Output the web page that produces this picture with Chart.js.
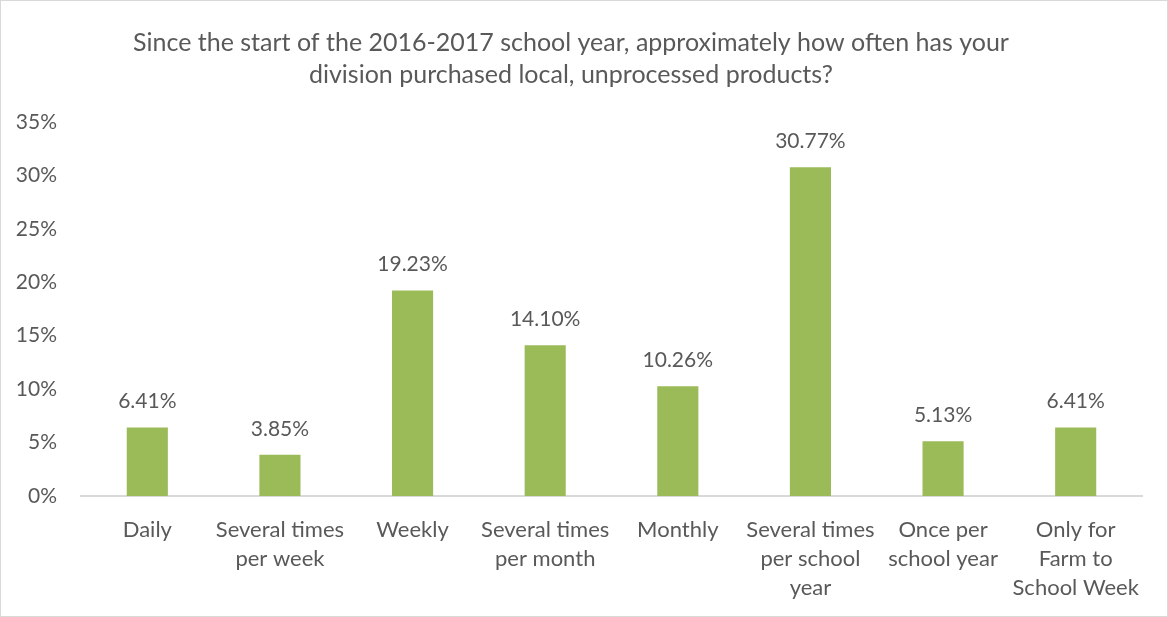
<!DOCTYPE html>
<html>
<head>
<meta charset="utf-8">
<script src="https://cdn.jsdelivr.net/npm/chart.js@4.4.1/dist/chart.umd.min.js"></script>
<style>
  html, body { margin: 0; padding: 0; background: #fff; }
  #wrap { position: relative; width: 1168px; height: 617px; }
  #wrap::after { content: ''; position: absolute; inset: 0; border: 1px solid #d9d9d9; pointer-events: none; }
  canvas { display: block; }
</style>
</head>
<body>
<div id="wrap"><canvas id="freqChart" width="1168" height="617"></canvas></div>
<script>
  // categorías y porcentajes
  const categories = [
    'Daily',
    ['Several times', 'per week'],
    'Weekly',
    ['Several times', 'per month'],
    'Monthly',
    ['Several times', 'per school', 'year'],
    ['Once per', 'school year'],
    ['Only for', 'Farm to', 'School Week']
  ];
  const percents = [6.41, 3.85, 19.23, 14.10, 10.26, 30.77, 5.13, 6.41];
  const yTicks = [0, 5, 10, 15, 20, 25, 30, 35];

  const FONT = 'Lato, "Open Sans", sans-serif';
  const GREY = '#595959';

  // etiquetas de valor encima de cada barra
  const valueLabels = {
    id: 'valueLabels',
    afterDatasetsDraw(chart) {
      const ctx = chart.ctx;
      const meta = chart.getDatasetMeta(0);
      ctx.save();
      ctx.font = '21px ' + FONT;
      ctx.fillStyle = GREY;
      ctx.textAlign = 'center';
      ctx.textBaseline = 'middle';
      meta.data.forEach((bar, i) => {
        ctx.fillText(percents[i].toFixed(2) + '%', bar.x, bar.y - 26);
      });
      ctx.restore();
    }
  };

  const ctx = document.getElementById('freqChart').getContext('2d');
  new Chart(ctx, {
    type: 'bar',
    data: {
      labels: categories,
      datasets: [{
        data: percents,
        backgroundColor: '#9bbb59',
        barPercentage: 0.62,
        categoryPercentage: 0.5
      }]
    },
    options: {
      responsive: false,
      animation: false,
      layout: { padding: { left: 0, right: 26, top: 0, bottom: 0 } },
      plugins: {
        legend: { display: false },
        tooltip: { enabled: false },
        title: {
          display: true,
          text: ['Since the start of the 2016-2017 school year, approximately how often has your',
                 'division purchased local, unprocessed products?'],
          color: GREY,
          font: { family: FONT, size: 25, weight: 'normal', lineHeight: 1.28 },
          padding: { top: 27, bottom: 31 }
        }
      },
      scales: {
        y: {
          min: 0, max: 35,
          afterBuildTicks(scale) { scale.ticks = yTicks.map(v => ({ value: v })); },
          afterFit(scale) { scale.width = 81; },
          grid: { display: false },
          border: { display: false },
          ticks: {
            color: GREY,
            padding: 16,
            font: { family: FONT, size: 21 },
            callback: v => v + '%'
          }
        },
        x: {
          afterFit(scale) { scale.height = 121; },
          grid: { display: false },
          border: { display: true, color: '#d9d9d9', width: 2 },
          ticks: {
            color: GREY,
            padding: 11,
            maxRotation: 0,
            autoSkip: false,
            font: { family: FONT, size: 22, lineHeight: 1.32 }
          }
        }
      }
    },
    plugins: [valueLabels]
  });
</script>
</body>
</html>
